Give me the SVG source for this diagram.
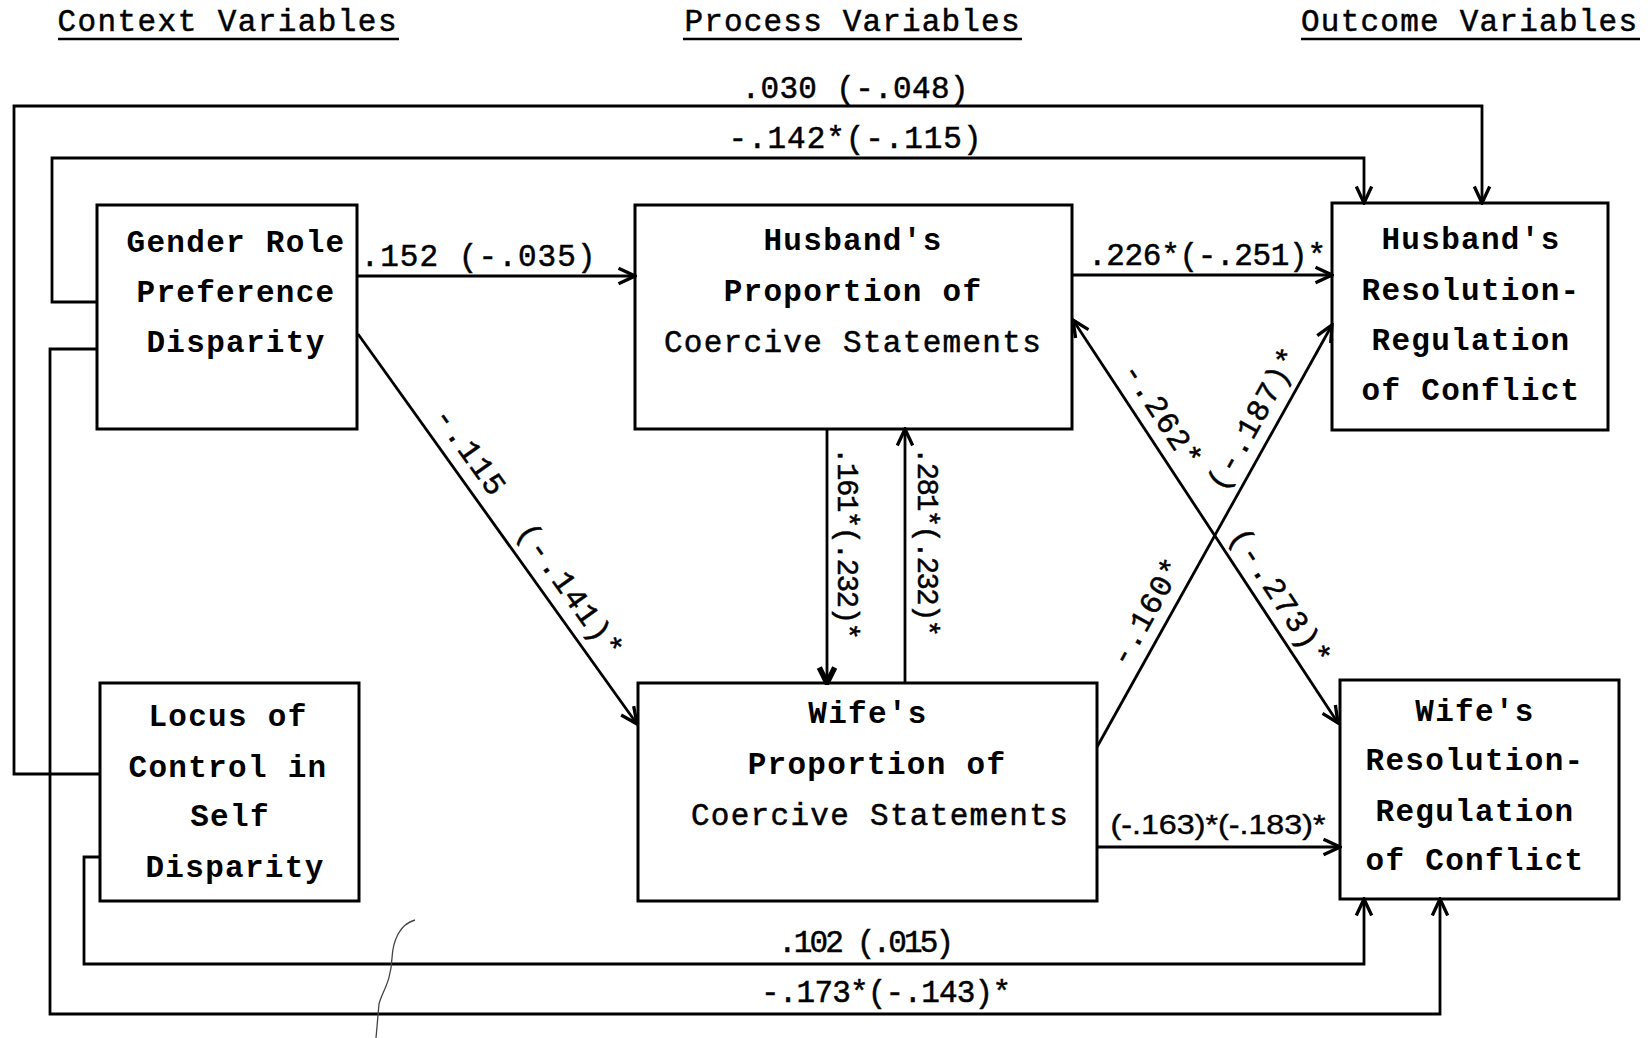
<svg xmlns="http://www.w3.org/2000/svg" width="1648" height="1038" viewBox="0 0 1648 1038">
<defs>
<style>
.box{fill:none;stroke:#000;stroke-width:3}
.ln{fill:none;stroke:#000;stroke-width:2.8}
.bt{font-family:"Liberation Mono","Courier New",monospace;font-size:31px;letter-spacing:1.3px;font-weight:bold;fill:#000;text-anchor:middle}
.rt{font-family:"Liberation Mono","Courier New",monospace;font-size:31px;letter-spacing:1.3px;fill:#000;stroke:#000;stroke-width:0.5;text-anchor:middle}
.ttl{font-family:"Liberation Mono","Courier New",monospace;font-size:31px;fill:#000;stroke:#000;stroke-width:0.5;text-anchor:middle}
.lb{font-family:"Liberation Mono","Courier New",monospace;font-size:31px;fill:#000;stroke:#000;stroke-width:0.5;text-anchor:middle}
.lbn{font-family:"Liberation Sans",Arial,sans-serif;font-size:28px;fill:#000;stroke:#000;stroke-width:0.4;text-anchor:middle}
.ul{stroke:#000;stroke-width:2.4}
</style>
<marker id="arr" viewBox="0 0 20 20" refX="18" refY="10" markerWidth="22" markerHeight="22" markerUnits="userSpaceOnUse" orient="auto-start-reverse">
<path d="M3,3 L18,10 L3,17" fill="none" stroke="#000" stroke-width="3"/>
</marker>
<marker id="arrb" viewBox="0 0 20 20" refX="18" refY="10" markerWidth="22" markerHeight="22" markerUnits="userSpaceOnUse" orient="auto">
<path d="M4,3 L18,10 L4,17" fill="none" stroke="#000" stroke-width="5"/>
</marker>
</defs>
<rect width="1648" height="1038" fill="#fff"/>

<g id="titles">
<text class="ttl" x="227" y="31" textLength="339" lengthAdjust="spacing">Context Variables</text>
<line class="ul" x1="58" y1="39" x2="399" y2="39"/>
<text class="ttl" x="852" y="31" textLength="335" lengthAdjust="spacing">Process Variables</text>
<line class="ul" x1="683" y1="39" x2="1022" y2="39"/>
<text class="ttl" x="1469" y="31" textLength="336" lengthAdjust="spacing">Outcome Variables</text>
<line class="ul" x1="1301" y1="39" x2="1640" y2="39"/>
</g>

<g id="connectors">
<g id="c-locus-hres">
<path class="ln" d="M100,774 H14 V106 H1482 V203" marker-end="url(#arr)"/>
<text class="lb" x="855" y="98" textLength="227" lengthAdjust="spacing">.030 (-.048)</text>
</g>
<g id="c-gender-hres">
<path class="ln" d="M97,302 H52 V158 H1364 V203" marker-end="url(#arr)"/>
<text class="lb" x="855" y="148" textLength="253" lengthAdjust="spacing">-.142*(-.115)</text>
</g>
<g id="c-gender-wres">
<path class="ln" d="M97,349 H50 V1014 H1440 V899" marker-end="url(#arr)"/>
<text class="lb" x="886" y="1002" textLength="250" lengthAdjust="spacing">-.173*(-.143)*</text>
</g>
<g id="c-locus-wres">
<path class="ln" d="M100,857 H84 V964 H1364 V899" marker-end="url(#arr)"/>
<text class="lb" x="866" y="952" textLength="176" lengthAdjust="spacing">.102 (.015)</text>
</g>
<g id="c-gender-hcoer">
<path class="ln" d="M357,276 H635" marker-end="url(#arr)"/>
<text class="lb" x="478" y="266" textLength="235" lengthAdjust="spacing">.152 (-.035)</text>
</g>
<g id="c-hcoer-hres">
<path class="ln" d="M1072,275 H1332" marker-end="url(#arr)"/>
<text class="lb" x="1207" y="265" textLength="238" lengthAdjust="spacing">.226*(-.251)*</text>
</g>
<g id="c-wcoer-wres">
<path class="ln" d="M1097,847 H1340" marker-end="url(#arr)"/>
<text class="lbn" x="1218" y="834" textLength="215" lengthAdjust="spacingAndGlyphs">(-.163)*(-.183)*</text>
</g>
<g id="c-gender-wcoer">
<path class="ln" d="M358,334 L637,724" marker-end="url(#arr)"/>
<text class="lb" transform="translate(462,457) rotate(54.4)" x="0" y="0" textLength="100" lengthAdjust="spacing">-.115</text>
<text class="lb" transform="translate(562,596) rotate(54.4)" x="0" y="0" textLength="158" lengthAdjust="spacing">(-.141)*</text>
</g>
<g id="c-hcoer-wcoer">
<path class="ln" d="M827,429 V683" marker-end="url(#arrb)"/>
<text class="lb" transform="translate(838,447) rotate(90)" x="0" y="0" style="text-anchor:start;font-size:29px" textLength="193" lengthAdjust="spacing">.161*(.232)*</text>
</g>
<g id="c-wcoer-hcoer">
<path class="ln" d="M905,683 V429" marker-end="url(#arr)"/>
<text class="lb" transform="translate(918,447) rotate(90)" x="0" y="0" style="text-anchor:start;font-size:29px" textLength="190" lengthAdjust="spacing">.281*(.232)*</text>
</g>
<g id="c-hcoer-wres">
<path class="ln" d="M1073,320 L1338,723" marker-start="url(#arr)" marker-end="url(#arr)"/>
<text class="lb" transform="translate(1154,420) rotate(56.67)" x="0" y="0" textLength="118" lengthAdjust="spacing">-.262*</text>
<text class="lb" transform="translate(1272,602) rotate(56.67)" x="0" y="0" textLength="158" lengthAdjust="spacing">(-.273)*</text>
</g>
<g id="c-wcoer-hres">
<path class="ln" d="M1097,747 L1332,325" marker-end="url(#arr)"/>
<text class="lb" transform="translate(1155,617) rotate(-60.89)" x="0" y="0" textLength="118" lengthAdjust="spacing">-.160*</text>
<text class="lb" transform="translate(1262,424) rotate(-60.89)" x="0" y="0" textLength="158" lengthAdjust="spacing">(-.187)*</text>
</g>
</g>

<g id="gender-role">
<rect class="box" x="97" y="205" width="260" height="224"/>
<text class="bt" x="236" y="252">Gender Role</text>
<text class="bt" x="236" y="302">Preference</text>
<text class="bt" x="236" y="352">Disparity</text>
</g>
<g id="husband-coercive">
<rect class="box" x="635" y="205" width="437" height="224"/>
<text class="bt" x="853" y="250">Husband's</text>
<text class="bt" x="853" y="301">Proportion of</text>
<text class="rt" x="853" y="352">Coercive Statements</text>
</g>
<g id="husband-resolution">
<rect class="box" x="1332" y="203" width="276" height="227"/>
<text class="bt" x="1471" y="249">Husband's</text>
<text class="bt" x="1471" y="300">Resolution-</text>
<text class="bt" x="1471" y="350">Regulation</text>
<text class="bt" x="1471" y="400">of Conflict</text>
</g>
<g id="locus-control">
<rect class="box" x="100" y="683" width="259" height="218"/>
<text class="bt" x="228" y="726">Locus of</text>
<text class="bt" x="228" y="777">Control in</text>
<text class="bt" x="230" y="826">Self</text>
<text class="bt" x="235" y="877">Disparity</text>
</g>
<g id="wife-coercive">
<rect class="box" x="638" y="683" width="459" height="218"/>
<text class="bt" x="868" y="723">Wife's</text>
<text class="bt" x="877" y="774">Proportion of</text>
<text class="rt" x="880" y="825">Coercive Statements</text>
</g>
<g id="wife-resolution">
<rect class="box" x="1340" y="680" width="279" height="219"/>
<text class="bt" x="1475" y="721">Wife's</text>
<text class="bt" x="1475" y="770">Resolution-</text>
<text class="bt" x="1475" y="821">Regulation</text>
<text class="bt" x="1475" y="870">of Conflict</text>
</g>

<path d="M415,920 C400,924 393,940 392,958 C391,982 382,992 379,1004 L376,1038" fill="none" stroke="#444" stroke-width="1.3"/>
</svg>
